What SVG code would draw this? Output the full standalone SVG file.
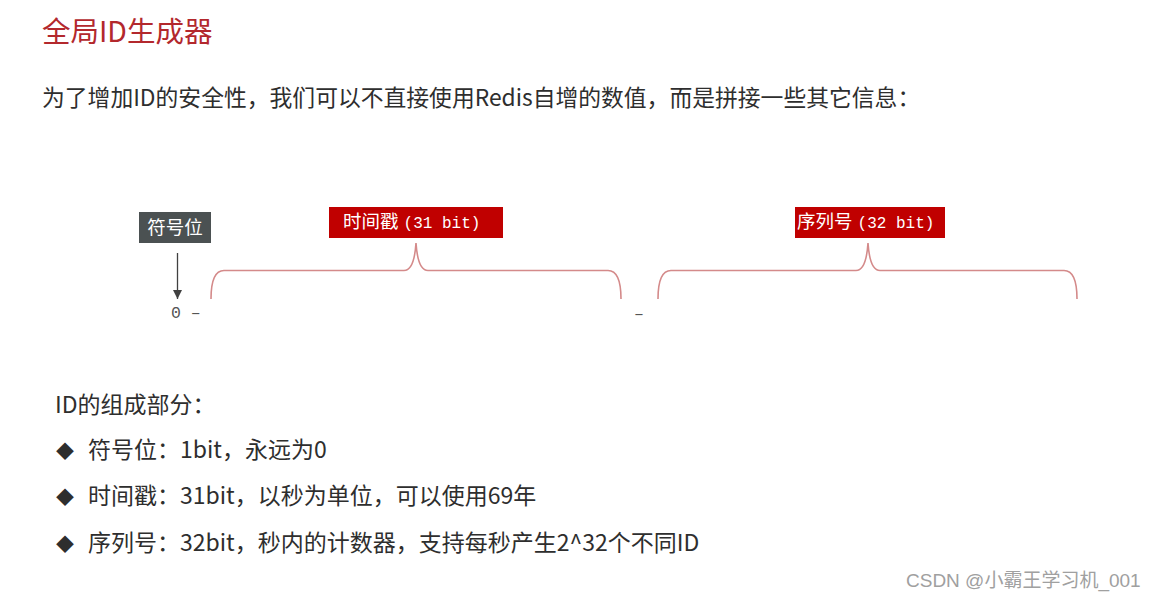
<svg xmlns="http://www.w3.org/2000/svg" width="1158" height="599" viewBox="0 0 1158 599">
<defs>
<style>
.cjk{font-family:"Noto Sans CJK SC","Liberation Sans",sans-serif;}
.mono{font-family:"Liberation Mono","DejaVu Sans Mono",monospace;}
.title{font-size:28.5px;fill:#b3282d;}
.body{font-size:23px;fill:#2e2e2e;}
.sub{font-size:22.8px;fill:#2e2e2e;}
.lbl{font-size:18.5px;fill:#ffffff;}
.lblm{font-size:16px;fill:#ffffff;}
.brace{fill:none;stroke:#d48a8a;stroke-width:1.6;}
.redbox{fill:#c00000;}
.graybox{fill:#4b5152;}
.bit{font-size:16.5px;fill:#555555;}
.wm{font-size:19px;fill:#a0a0a0;font-family:"Liberation Sans","Noto Sans CJK SC",sans-serif;}
</style>
<marker id="arrow" viewBox="0 0 10 10" refX="10" refY="5" markerWidth="9" markerHeight="9" markerUnits="userSpaceOnUse" orient="auto">
<path d="M0,0 L10,5 L0,10 z" fill="#404040"/>
</marker>
</defs>
<rect width="1158" height="599" fill="#ffffff"/>

<g id="title">
<text class="cjk title" x="42" y="42">全局ID生成器</text>
</g>
<g id="subtitle">
<text class="cjk sub" x="42" y="106">为了增加ID的安全性，我们可以不直接使用Redis自增的数值，而是拼接一些其它信息：</text>
</g>

<g id="sign-label">
<rect class="graybox" x="139" y="212" width="72" height="31"/>
<text class="cjk lbl" x="175" y="234" text-anchor="middle">符号位</text>
</g>

<g id="timestamp-label">
<rect class="redbox" x="329" y="207" width="174" height="31"/>
<text x="343" y="228"><tspan class="cjk lbl">时间戳</tspan><tspan class="mono lblm" x="394"> (31 bit)</tspan></text>
</g>

<g id="sequence-label">
<rect class="redbox" x="795" y="207" width="150" height="31"/>
<text x="797" y="228"><tspan class="cjk lbl">序列号</tspan><tspan class="mono lblm" x="848"> (32 bit)</tspan></text>
</g>

<g id="bits">
<text class="mono bit" x="171" y="318">0 –</text>
<text class="mono bit" x="634" y="319">–</text>
</g>

<g id="connectors">
<line x1="177.5" y1="253" x2="177.5" y2="299" stroke="#404040" stroke-width="1.3" marker-end="url(#arrow)"/>
<path class="brace" d="M211,299 C211,283 214,270.5 224,270.5 L404,270.5 C412,270.5 415,258 416,243 C417,258 420,270.5 428,270.5 L608,270.5 C618,270.5 621,283 621,299"/>
<path class="brace" d="M658,299 C658,283 661,270.5 671,270.5 L856,270.5 C864,270.5 867,258 868,243 C869,258 872,270.5 880,270.5 L1064,270.5 C1074,270.5 1077,283 1077,299"/>
</g>

<g id="composition">
<text class="cjk body" x="55" y="413">ID的组成部分：</text>
<text class="cjk body" x="56" y="458"><tspan font-size="18">◆</tspan><tspan x="88">符号位：1bit，永远为0</tspan></text>
<text class="cjk body" x="56" y="504"><tspan font-size="18">◆</tspan><tspan x="88">时间戳：31bit，以秒为单位，可以使用69年</tspan></text>
<text class="cjk body" x="56" y="551"><tspan font-size="18">◆</tspan><tspan x="88">序列号：32bit，秒内的计数器，支持每秒产生2^32个不同ID</tspan></text>
</g>

<g id="watermark">
<text class="wm" x="906" y="587">CSDN @小霸王学习机_001</text>
</g>
</svg>
